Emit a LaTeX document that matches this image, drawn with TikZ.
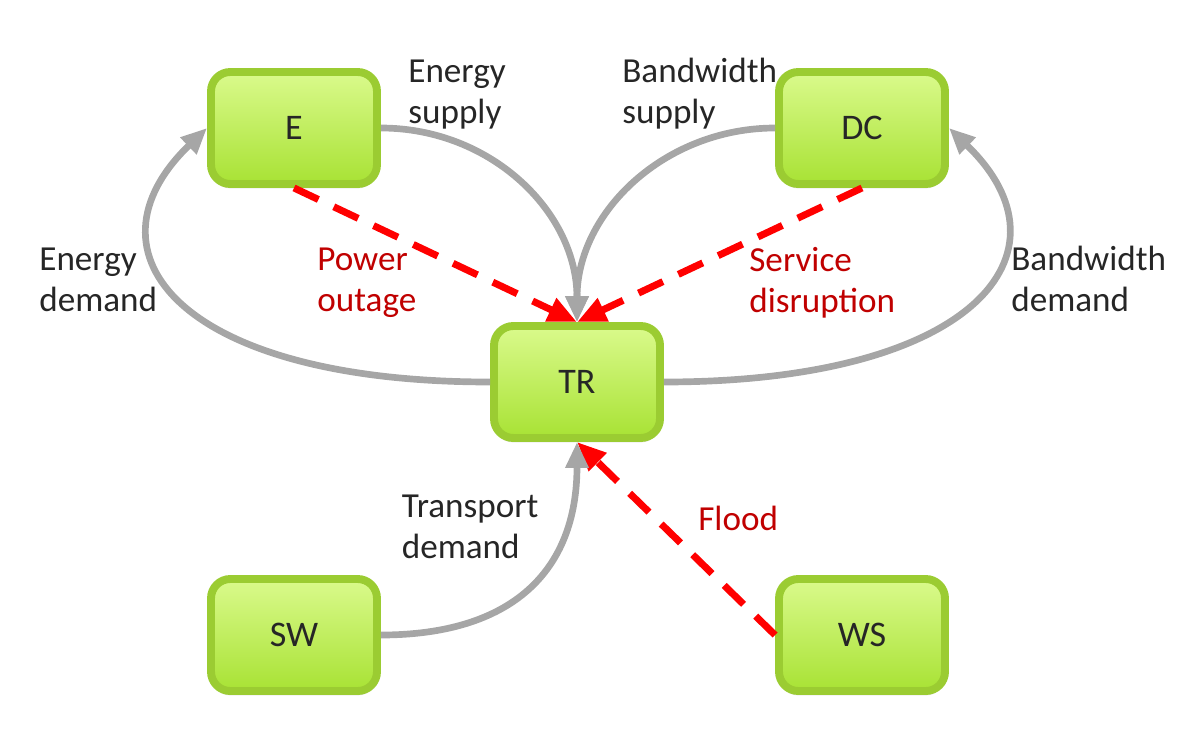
\documentclass[tikz,border=0pt]{standalone}
\usepackage{fontspec}
\setmainfont{Carlito}
\usetikzlibrary{arrows.meta,shadows}
\definecolor{ink}{HTML}{262626}
\definecolor{flowgrey}{HTML}{A6A6A6}
\definecolor{hazred}{HTML}{FF0000}
\definecolor{hazlabel}{HTML}{C00000}
\definecolor{sysedge}{HTML}{9BCC32}
\definecolor{systop}{HTML}{DAFA8C}
\definecolor{sysbot}{HTML}{A8E234}
\newcommand{\sys}[3]{%
  \node[draw=sysedge,line width=4.5pt,top color=systop,bottom color=sysbot,
        rounded corners=11pt,minimum width=3.32cm,minimum height=2.24cm,
        text=ink,font=\fontsize{20.5}{24}\selectfont,
        drop shadow={opacity=0.25,shadow xshift=0pt,shadow yshift=-2.5pt}]
       (#1) at #2 {#3};}

\begin{document}
\begin{tikzpicture}[
    lbl/.style={anchor=west,inner sep=0pt,align=left,text=ink,
                font=\fontsize{20}{23.3}\selectfont},
    hzlbl/.style={lbl,text=hazlabel},
    flow/.style={flowgrey,line width=3.8pt,
                 -{Triangle[length=0.52cm,width=0.44cm]}},
    hazard/.style={hazred,line width=4pt,dash pattern=on 0.54cm off 0.34cm,
                   -{Triangle[length=0.58cm,width=0.48cm]}}]
  \useasboundingbox (0,0) rectangle (23.74,14.68);

  % Infrastructure systems
  \sys{E}{(5.88,12.12)}{E}
  \sys{DC}{(17.24,12.12)}{DC}
  \sys{TR}{(11.54,7.04)}{TR}
  \sys{SW}{(5.88,1.98)}{SW}
  \sys{WS}{(17.24,1.98)}{WS}

  % Hazards
  \draw[hazard] (E.south) -- (TR.north);
  \draw[hazard] (DC.south) -- (TR.north);
  \draw[hazard] (WS.west) -- (TR.south);

  % Supply and demand flows
  \draw[flow] (E.east) .. controls +(2.2,0) and +(0,2.2) .. (TR.north);
  \draw[flow] (DC.west) .. controls +(-2.2,0) and +(0,2.2) .. (TR.north);
  \draw[flow] (TR.west) .. controls +(-6.2,0) and +(-2.6,-2.5) .. (E.west);
  \draw[flow] (TR.east) .. controls +(6.2,0) and +(2.6,-2.5) .. (DC.east);
  \draw[flow] (SW.east) .. controls +(2.6,0) and +(0,-2.6) .. (TR.south);

  % Labels
  \node[lbl] (esupply) at (8.16,12.79) {Energy\\supply};
  \node[lbl] (bsupply) at (12.44,12.8) {Bandwidth\\supply};
  \node[lbl] (edemand) at (0.78,9.08) {Energy\\demand};
  \node[lbl] (bdemand) at (20.22,9.1) {Bandwidth\\demand};
  \node[lbl] (tdemand) at (8.03,4.14) {Transport\\demand};
  \node[hzlbl] (outage) at (6.34,9.02) {Power\\outage};
  \node[hzlbl] (disrupt) at (14.98,9.02) {Service\\disruption};
  \node[hzlbl] (flood) at (13.96,4.32) {Flood};
\end{tikzpicture}
\end{document}
